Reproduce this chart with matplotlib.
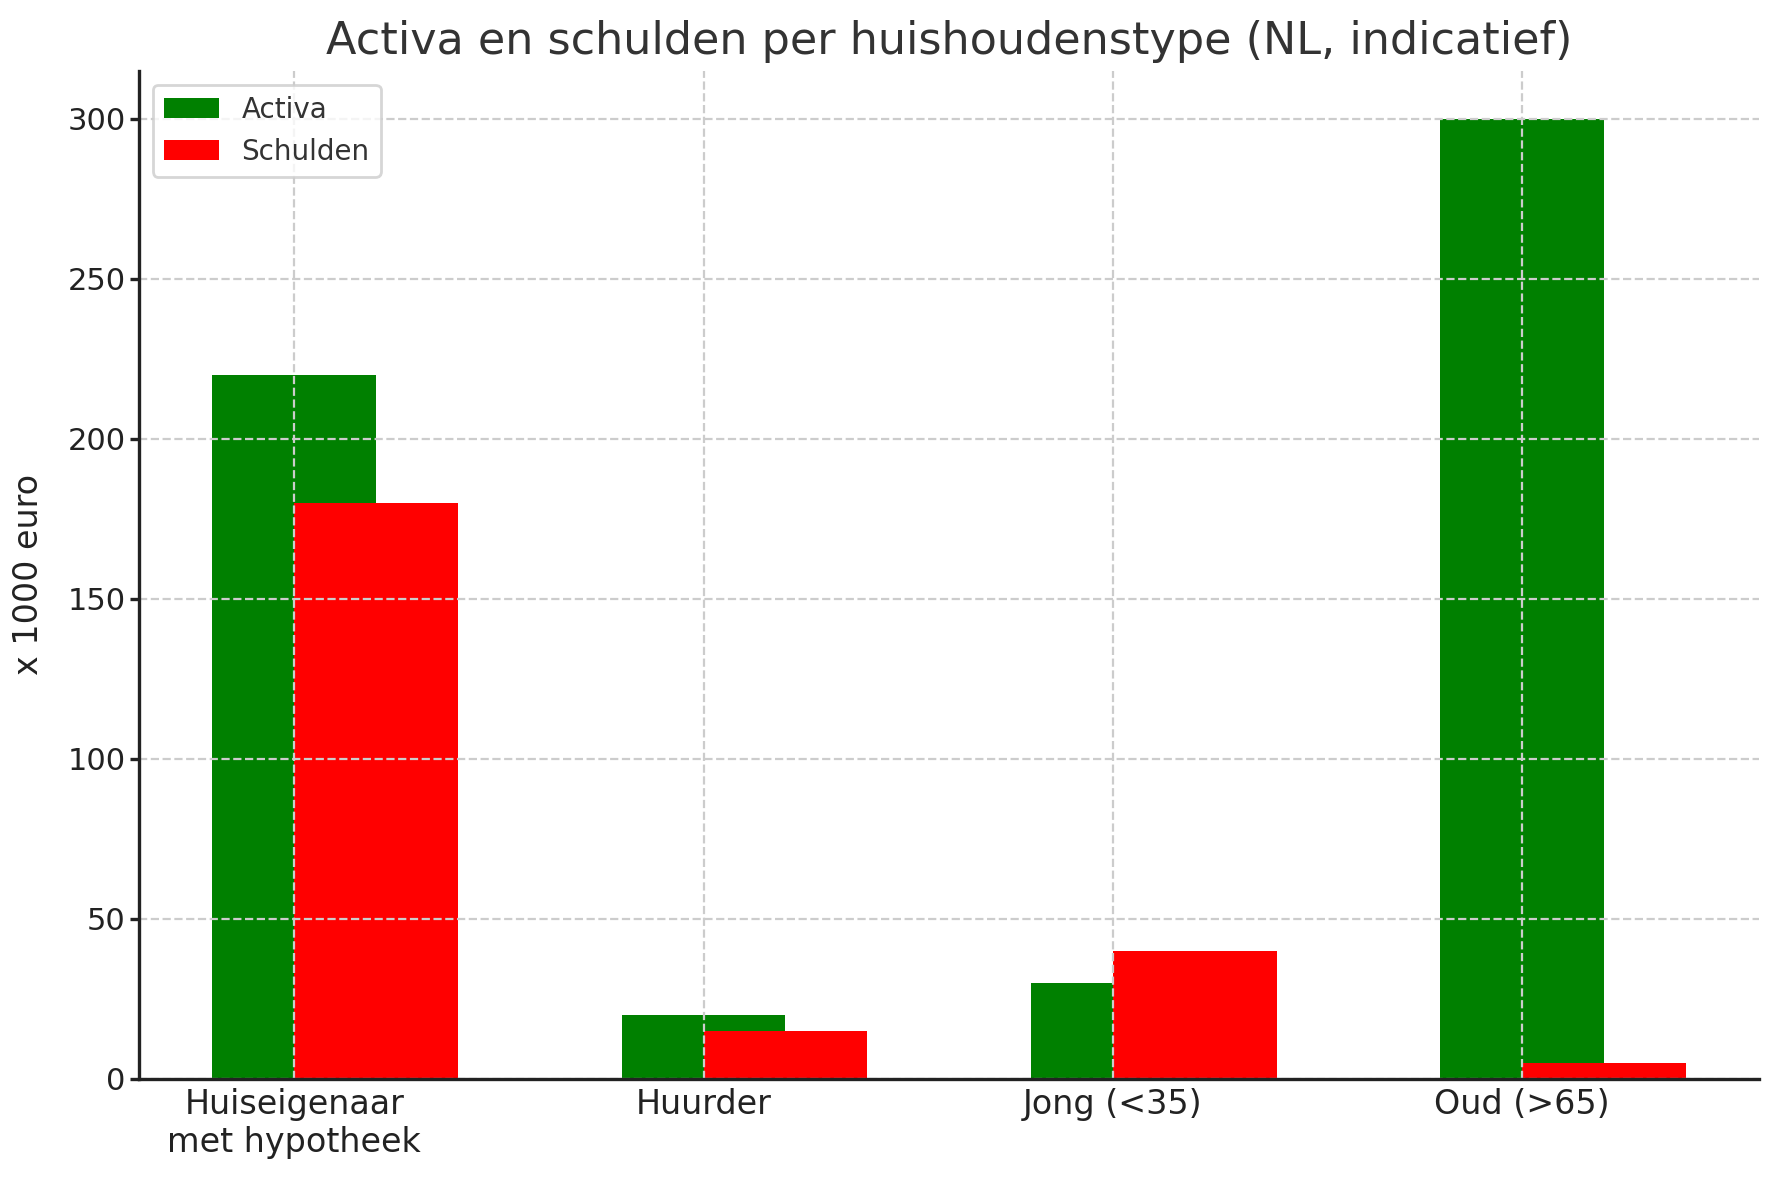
import numpy as np
import matplotlib
matplotlib.use("Agg")
import matplotlib.pyplot as plt

categories = ["Huiseigenaar\nmet hypotheek", "Huurder", "Jong (<35)", "Oud (>65)"]
activa = [220, 20, 30, 300]
schulden = [180, 15, 40, 5]

plt.rcParams['font.family'] = ['DejaVu Sans']
plt.rcParams['text.color'] = '#333333'
plt.rcParams['axes.labelcolor'] = '#222222'
plt.rcParams['xtick.color'] = '#222222'
plt.rcParams['ytick.color'] = '#222222'

fig, ax = plt.subplots(figsize=(1779 / 200, 1180 / 200), dpi=200)
fig.subplots_adjust(left=0.078, right=0.989, bottom=0.086, top=0.94)

x = np.arange(len(categories))
w = 0.4
ax.bar(x, activa, w, color='green', label='Activa')
ax.bar(x + w / 2, schulden, w, color='red', label='Schulden')

ax.set_xticks(x)
ax.set_xticklabels(categories, fontsize=12)
ax.tick_params(axis='x', length=0, pad=3.5)
ax.tick_params(axis='y', labelsize=11, length=3.3, width=1.2, pad=1.5)
ax.set_ylabel('x 1000 euro', fontsize=12, labelpad=8)
ax.set_title('Activa en schulden per huishoudenstype (NL, indicatief)', fontsize=16, color='#333333')

ax.set_axisbelow(False)
ax.grid(True, linestyle='--', color='#cccccc', linewidth=0.8)

for s in ['top', 'right']:
    ax.spines[s].set_visible(False)
for s in ['left', 'bottom']:
    ax.spines[s].set_color('#222222')
    ax.spines[s].set_linewidth(1.2)
    ax.spines[s].set_zorder(3)

leg = ax.legend(loc='upper left', fontsize=10, frameon=True)
leg.get_frame().set_edgecolor('#cccccc')

fig.savefig('out.png', dpi=200)
